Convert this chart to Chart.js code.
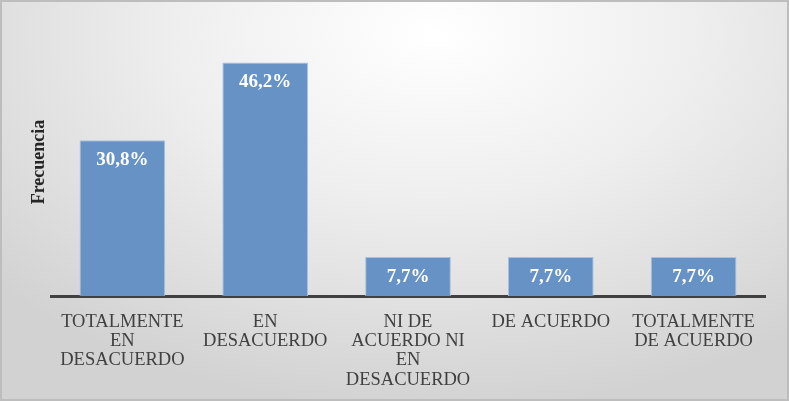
<!DOCTYPE html>
<html>
<head>
<meta charset="utf-8">
<script src="https://cdn.jsdelivr.net/npm/chart.js@4"></script>
<style>
  html, body { margin: 0; padding: 0; }
  #wrap {
    width: 785px; height: 397px;
    border: 2px solid #bdbdbd;
    background: radial-gradient(ellipse 75% 95% at 55% 8%, #ffffff 0%, #eeeeee 45%, #d2d2d2 100%);
    position: relative;
  }
</style>
</head>
<body>
<div id="wrap"><canvas id="chart" width="785" height="397"></canvas></div>
<script>
const categories = [
  ['TOTALMENTE', 'EN', 'DESACUERDO'],
  ['EN', 'DESACUERDO'],
  ['NI DE', 'ACUERDO NI', 'EN', 'DESACUERDO'],
  ['DE ACUERDO'],
  ['TOTALMENTE', 'DE ACUERDO']
];
const values = [30.8, 46.2, 7.7, 7.7, 7.7];
const yTitle = 'Frecuencia';

const serif = '"Liberation Serif", "Times New Roman", serif';

const barLabels = {
  id: 'barLabels',
  afterDatasetsDraw(chart) {
    const ctx = chart.ctx;
    const meta = chart.getDatasetMeta(0);
    ctx.save();
    ctx.font = 'bold 19px ' + serif;
    ctx.fillStyle = '#ffffff';
    ctx.textAlign = 'center';
    ctx.textBaseline = 'middle';
    meta.data.forEach((bar, i) => {
      ctx.fillText(values[i].toFixed(1).replace('.', ',') + '%', bar.x, bar.y + 20);
    });
    ctx.restore();
  }
};

new Chart(document.getElementById('chart').getContext('2d'), {
  type: 'bar',
  data: {
    labels: categories,
    datasets: [{
      data: values,
      backgroundColor: '#6792c6',
      borderColor: '#a9c1e0',
      borderWidth: 1,
      categoryPercentage: 0.6,
      barPercentage: 1
    }]
  },
  options: {
    responsive: false,
    animation: false,
    layout: { padding: { left: 16, right: 22, top: 26, bottom: 0 } },
    scales: {
      x: {
        grid: { display: false },
        border: { display: true, color: '#404040', width: 3 },
        ticks: {
          color: '#404040',
          font: { family: serif, size: 18.5, lineHeight: 1.05 },
          maxRotation: 0,
          autoSkip: false,
          padding: 8
        },
        afterFit(scale) { scale.height = 103; }
      },
      y: {
        min: 0,
        max: 53,
        grid: { display: false },
        border: { display: false },
        ticks: { display: false },
        title: {
          display: true,
          text: yTitle,
          color: '#262626',
          font: { family: serif, size: 18, weight: 'bold' },
          padding: { top: 11, bottom: 0 }
        },
        afterFit(scale) { scale.width = 33; }
      }
    },
    plugins: {
      legend: { display: false },
      tooltip: { enabled: false }
    }
  },
  plugins: [barLabels]
});
</script>
</body>
</html>
